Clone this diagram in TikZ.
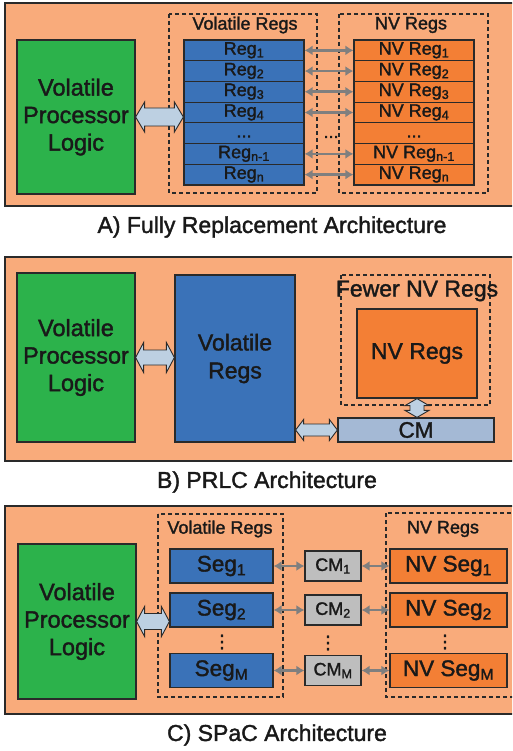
\documentclass[tikz,border=0pt]{standalone}
\usepackage{fontspec}
\setmainfont[FakeBold=1.6]{Liberation Sans}
\newfontfamily\symfont[FakeBold=1.6]{DejaVu Sans}
\usetikzlibrary{arrows.meta,calc}

\definecolor{panelbg}{HTML}{F9AB7B}
\definecolor{logicgreen}{HTML}{2CB24B}
\definecolor{volblue}{HTML}{3A72B8}
\definecolor{nvorange}{HTML}{F37F35}
\definecolor{busblue}{HTML}{BDD0E2}
\definecolor{cmblue}{HTML}{A4B9D5}
\definecolor{cmgray}{HTML}{BEBEBE}
\definecolor{linkgray}{HTML}{7F7F7F}
\definecolor{edge}{HTML}{2A2A2A}

\newcommand\fsz[2]{\fontsize{#1}{#2}\selectfont}
\newcommand\vdts{{\symfont ⋮}}

% block arrows: from, to, head half width, shaft half width, head length
\newcommand\hbus[5]{\draw[bus] let \p1=(#1), \p2=(#2) in
 (\x1,\y1) -- (\x1+#5,\y1+#3) -- (\x1+#5,\y1+#4) -- (\x2-#5,\y1+#4) -- (\x2-#5,\y1+#3) -- (\x2,\y1)
 -- (\x2-#5,\y1-#3) -- (\x2-#5,\y1-#4) -- (\x1+#5,\y1-#4) -- (\x1+#5,\y1-#3) -- cycle;}
\newcommand\vbus[5]{\draw[bus] let \p1=(#1), \p2=(#2) in
 (\x1,\y1) -- (\x1+#3,\y1-#5) -- (\x1+#4,\y1-#5) -- (\x1+#4,\y2+#5) -- (\x1+#3,\y2+#5) -- (\x1,\y2)
 -- (\x1-#3,\y2+#5) -- (\x1-#4,\y2+#5) -- (\x1-#4,\y1-#5) -- (\x1-#3,\y1-#5) -- cycle;}

\tikzset{
 panel/.style={draw=edge,line width=1.4pt,fill=panelbg},
 dashbox/.style={draw=edge,line width=1.1pt,dash pattern=on 4pt off 3pt},
 box/.style={draw=edge,line width=1.2pt,inner sep=0pt,text=black!90,align=center},
 logic/.style={box,fill=logicgreen,minimum width=118pt,font=\fsz{23.5}{27.5}},
 reg/.style={box,fill=volblue,minimum width=120pt,minimum height=20.7pt,text height=12.5pt,text depth=4pt,font=\fsz{18}{20}},
 nvreg/.style={reg,fill=nvorange},
 seg/.style={box,fill=volblue,minimum width=103pt,minimum height=34pt,font=\fsz{22.5}{25}},
 nvseg/.style={seg,fill=nvorange,minimum width=117pt},
 cmbox/.style={box,fill=cmgray,minimum width=56pt,minimum height=30pt,font=\fsz{18}{20}},
 title/.style={inner sep=0pt,text=black!90,font=\fsz{18}{20}},
 bigtitle/.style={title,font=\fsz{23}{26}},
 capt/.style={inner sep=0pt,text=black!90,font=\fsz{23}{26}},
 link/.style={draw=linkgray,line width=2.8pt,{Latex[length=8pt,width=10pt]}-{Latex[length=8pt,width=10pt]}},
 bus/.style={draw=edge,line width=0.9pt,fill=busblue}
}

\begin{document}
\begin{tikzpicture}[x=1pt,y=-1pt]
 \clip (0,0) rectangle (512,751);

 % A
 \draw[panel] (5,3) rectangle (520,206);
 \draw[dashbox] (169,14) rectangle (317,193);
 \draw[dashbox] (339,14) rectangle (488,193);
 \node[title] (ttlA) at (245,25) {Volatile Regs};
 \node[title] (ttlnvA) at (411,25) {NV Regs};
 \node[logic,minimum height=154pt] (logA) at (76,117) {Volatile\\Processor\\Logic};
 \foreach \i/\s in {1/1,2/2,3/3,4/4,6/n-1,7/n}{
  \node[reg] (r\i) at (244,{40+(\i-0.5)*20.71}) {Reg\textsubscript{\s}};
  \node[nvreg] (n\i) at (414,{40+(\i-0.5)*20.71}) {NV Reg\textsubscript{\s}};
  \draw[link] (r\i) -- (n\i);
 }
 \node[reg] (r5) at (244,{40+4.5*20.71}) {...};
 \node[nvreg] (n5) at (414,{40+4.5*20.71}) {...};
 \node[title] (dotsA) at (331,137) {...};
 \hbus{logA.east}{logA.east -| r4.west}{15pt}{9pt}{9pt}
 \node[capt] (captA) at (272,227) {A) Fully Replacement Architecture};

 % B
 \draw[panel] (5,257) rectangle (520,461);
 \node[logic,minimum height=169pt] (logB) at (76,357.5) {Volatile\\Processor\\Logic};
 \node[box,fill=volblue,minimum width=120pt,minimum height=167pt,font=\fsz{23}{28}] (volB) at (235,358.5) {Volatile\\Regs};
 \draw[dashbox] (341,275) rectangle (490,405);
 \node[bigtitle] (ttlB) at (417,291) {Fewer NV Regs};
 \node[box,fill=nvorange,minimum width=120pt,minimum height=89pt,font=\fsz{23}{26}] (nvB) at (417,353.5) {NV Regs};
 \node[box,fill=cmblue,minimum width=156pt,minimum height=24pt,font=\fsz{22.5}{25}] (cmB) at (416,430) {CM};
 \hbus{logB.east}{logB.east -| volB.west}{15pt}{7.5pt}{8pt}
 \hbus{cmB.west -| volB.east}{cmB.west}{10.5pt}{6pt}{8pt}
 \vbus{nvB.south}{nvB.south |- cmB.north}{12pt}{7pt}{7pt}
 \node[capt] (captB) at (267,482) {B) PRLC Architecture};

 % C
 \draw[panel] (5,506) rectangle (520,714);
 \draw[dashbox] (158,514) rectangle (283,697);
 \draw[dashbox] (386,513) rectangle (520,697);
 \node[title] (ttlC) at (220,529) {Volatile Regs};
 \node[title] (ttlnvC) at (443,529) {NV Regs};
 \node[logic,minimum height=155pt] (logC) at (77,621.5) {Volatile\\Processor\\Logic};
 \foreach \i/\s/\y in {1/1/566,2/2/610,3/M/670.5}{
  \node[seg] (s\i) at (221.5,\y) {Seg\textsubscript{\s}};
  \node[cmbox] (c\i) at (333,\y) {CM\textsubscript{\s}};
  \node[nvseg] (v\i) at (448.5,\y) {NV Seg\textsubscript{\s}};
  \draw[link] (s\i) -- (c\i);
  \draw[link] (c\i) -- (v\i);
 }
 \node[title] (vdS) at (222,642) {\vdts};
 \node[title] (vdC) at (328,643) {\vdts};
 \node[title] (vdV) at (445,642) {\vdts};
 \hbus{logC.east}{logC.east -| s2.west}{15pt}{8pt}{8pt}
 \node[capt] (captC) at (277,735) {C) SPaC Architecture};
\end{tikzpicture}
\end{document}
